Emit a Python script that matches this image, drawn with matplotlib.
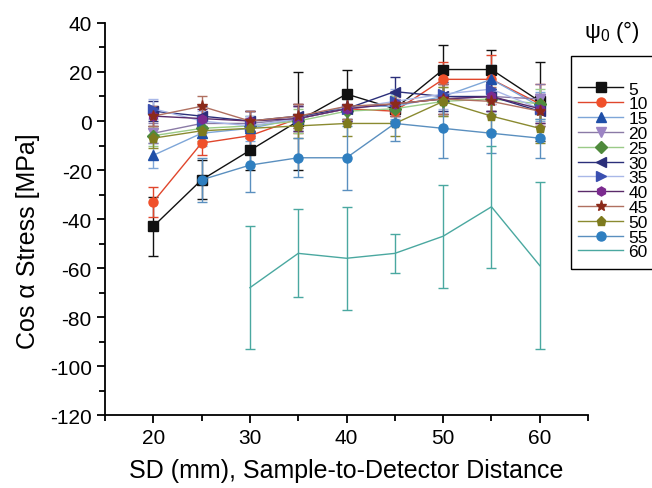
import numpy as np
import matplotlib
matplotlib.use("Agg")
import matplotlib.pyplot as plt
from matplotlib.lines import Line2D
from matplotlib.patches import Rectangle

plt.rcParams['font.family'] = ['Liberation Sans', 'DejaVu Sans']
plt.rcParams['mathtext.fontset'] = 'custom'
plt.rcParams['mathtext.rm'] = 'Liberation Sans'
plt.rcParams['axes.unicode_minus'] = False

sd = [20, 25, 30, 35, 40, 45, 50, 55, 60]
psi_labels = ['5', '10', '15', '20', '25', '30', '35', '40', '45', '50', '55', '60']
nan = np.nan

s5 = [-43, -24, -12, 0, 11, 5, 21, 21, 8]
s10 = [-33, -9, -6, 1, 5, 4, 17, 17, 7]
s15 = [-14, -5, -3, 1, 6, 6, 10, 17, 6]
s20 = [-5, -1, -1, 1, 5, 7, 9, 10, 9]
s25 = [-6, -3, -2, 0, 4, 5, 8, 9, 7]
s30 = [4, 2, 0, 2, 5, 12, 10, 10, 4]
s35 = [5, 0, -2, 1, 5, 8, 11, 13, 5]
s40 = [2, 1, 0, 1, 5, 7, 9, 10, 5]
s45 = [2, 6, 0, 2, 6, 7, 9, 8, 4]
s50 = [-7, -4, -3, -2, -1, -1, 8, 2, -3]
s55 = [nan, -24, -18, -15, -15, -1, -3, -5, -7]
s60 = [nan, nan, -68, -54, -56, -54, -47, -35, -59]

e5 = [12, 8, 8, 20, 10, 5, 10, 8, 16]
e10 = [6, 5, 6, 6, 6, 5, 7, 10, 8]
e15 = [5, 5, 5, 5, 5, 5, 6, 6, 6]
e20 = [4, 4, 5, 5, 5, 5, 6, 6, 6]
e25 = [4, 4, 4, 5, 5, 5, 6, 6, 6]
e30 = [4, 4, 4, 5, 5, 6, 6, 6, 6]
e35 = [4, 4, 4, 5, 5, 5, 6, 6, 6]
e40 = [4, 4, 4, 5, 5, 5, 6, 6, 6]
e45 = [4, 4, 4, 5, 5, 5, 6, 6, 6]
e50 = [4, 4, 4, 5, 5, 5, 6, 6, 6]
e55 = [nan, 9, 11, 8, 13, 7, 12, 8, 8]
e60 = [nan, nan, 25, 18, 21, 8, 21, 25, 34]

series = [s5, s10, s15, s20, s25, s30, s35, s40, s45, s50, s55, s60]
errors = [e5, e10, e15, e20, e25, e30, e35, e40, e45, e50, e55, e60]

styles = [
    dict(marker='s', mfc='#111111', line='#111111'),
    dict(marker='o', mfc='#f0502a', line='#e0462c'),
    dict(marker='^', mfc='#1f4fa8', line='#7ea6d8'),
    dict(marker='v', mfc='#9c84c4', line='#8a7aa6'),
    dict(marker='D', mfc='#4f8a3c', line='#9acb88'),
    dict(marker='<', mfc='#2b2f7a', line='#2b2f7a'),
    dict(marker='>', mfc='#3a4fb0', line='#a9b8e8'),
    dict(marker='h', mfc='#7b2a8f', line='#5a2a6a'),
    dict(marker='*', mfc='#8b2a1a', line='#b07060'),
    dict(marker='p', mfc='#7d7a1e', line='#8a8a30'),
    dict(marker='o', mfc='#2f7fc0', line='#5a8fbf'),
    dict(marker='None', mfc='#4aa8a0', line='#4aa8a0'),
]

fig = plt.figure(figsize=(6.52, 4.89), dpi=100)
ax = fig.add_axes([0.161, 0.149, 0.741, 0.802])

handles = []
for ys, es, st, lab in zip(series, errors, styles, psi_labels):
    ms = 8 if st['marker'] == '*' else 6.5
    ax.errorbar(sd, ys, yerr=es, color=st['line'], lw=1.0,
                marker=st['marker'], ms=ms, mfc=st['mfc'], mec=st['mfc'],
                ecolor=st['line'], elinewidth=1.0, capsize=3.6, capthick=1.0)
    handles.append(Line2D([], [], color=st['line'], lw=1.0, marker=st['marker'],
                          ms=ms, mfc=st['mfc'], mec=st['mfc']))

ax.set_xlim(15, 65)
ax.set_ylim(-120, 40)
ax.set_xticks([20, 30, 40, 50, 60])
ax.set_xticks([15, 25, 35, 45, 55, 65], minor=True)
ax.set_yticks(np.arange(-120, 41, 20))
ax.set_yticks(np.arange(-110, 40, 20), minor=True)
for s in ['top', 'right']:
    ax.spines[s].set_visible(False)
for s in ['left', 'bottom']:
    ax.spines[s].set_linewidth(1.3)
ax.tick_params(which='major', direction='out', length=6, width=1.3, labelsize=15)
ax.tick_params(which='minor', direction='out', length=4, width=1.3)

ax.set_xlabel('SD (mm), Sample-to-Detector Distance', fontsize=18, labelpad=8)
ax.set_ylabel('Cos α Stress [MPa]', fontsize=18)
ax.yaxis.set_label_coords(-0.135, 0.446)

# legend frame (extends past the right edge, as in the reference)
fig.patches.append(Rectangle((571 / 652, 1 - 270 / 489), 0.2, (270 - 57) / 489,
                             transform=fig.transFigure, fill=False,
                             edgecolor='black', lw=1.0))
fig.legend(handles=handles, labels=psi_labels, loc='upper left',
           bbox_to_anchor=(578 / 652, 0.8315), bbox_transform=fig.transFigure,
           fontsize=12.5, frameon=False, labelspacing=-0.02,
           handlelength=2.6, handletextpad=0.3, borderpad=0, borderaxespad=0)

fig.text(0.938, 0.934, 'ψ$_0$ (°)', fontsize=16, ha='center', va='center')

fig.savefig('out.png', dpi=100)
